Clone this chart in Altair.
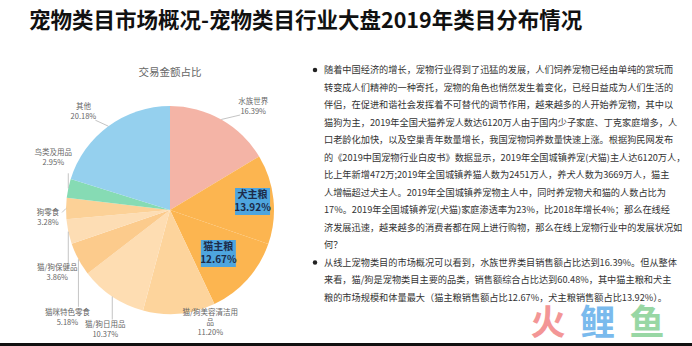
import altair as alt
import pandas as pd

FONT = "Noto Sans CJK SC"

# ---------------- data ----------------
title_text = "宠物类目市场概况-宠物类目行业大盘2019年类目分布情况"
pie_title = "交易金额占比"

categories = ["水族世界", "犬主粮", "猫主粮", "猫/狗美容清洁用品", "猫/狗日用品",
              "猫咪特色零食", "猫/狗保健品", "狗零食", "鸟类及用品", "其他"]
shares = [16.39, 13.92, 12.67, 11.20, 10.37, 5.18, 3.86, 3.28, 2.95, 20.18]
slice_colors = ["#F4B4A6", "#FCB550", "#FCB550", "#FDD49C", "#FEDDB2",
                "#FCCB8C", "#FDDDB4", "#FCD197", "#86DBB4", "#95D0EE"]

body_lines = [
    "随着中国经济的增长，宠物行业得到了迅猛的发展，人们饲养宠物已经由单纯的赏玩而",
    "转变成人们精神的一种寄托，宠物的角色也悄然发生着变化，已经日益成为人们生活的",
    "伴侣，在促进和谐社会发挥着不可替代的调节作用，越来越多的人开始养宠物，其中以",
    "猫狗为主，2019年全国犬猫养宠人数达6120万人由于国内少子家庭、丁克家庭增多，人",
    "口老龄化加快，以及空巢青年数量增长，我国宠物饲养数量快速上涨。根据狗民网发布",
    "的《2019中国宠物行业白皮书》数据显示，2019年全国城镇养宠(犬猫)主人达6120万人，",
    "比上年新增472万;2019年全国城镇养猫人数为2451万人，养犬人数为3669万人，猫主",
    "人增幅超过犬主人。2019年全国城镇养宠物主人中，同时养宠物犬和猫的人数占比为",
    "17%。2019年全国城镇养宠(犬猫)家庭渗透率为23%，比2018年增长4%；那么在线经",
    "济发展迅速，越来越多的消费者都在网上进行购物，那么在线上宠物行业中的发展状况如",
    "何？",
    "从线上宠物类目的市场概况可以看到，水族世界类目销售额占比达到16.39%。但从整体",
    "来看，猫/狗是宠物类目主要的品类，销售额综合占比达到60.48%，其中猫主粮和犬主",
    "粮的市场规模和体量最大（猫主粮销售额占比12.67%，犬主粮销售额占比13.92%）。",
]
bullet_lines = [0, 11]

watermark_chars = ["火", "鲤", "鱼"]
watermark_colors = ["#F28B8B", "#6CB3EC", "#8DD39B"]

# ---------------- layout ----------------
CX, CY, R = 170, 210, 104
W, H = 692, 346
LH = 9.8  # label line height

label_wrap = {"猫/狗美容清洁用品": ["猫/狗美容清洁用", "品"]}
# label placement relative to each slice's mid-angle point on the rim
# tdx/tdy: first text line centre; ldx/ldy: leader end
label_layout = {
    "水族世界":        dict(kind="out", tdx=32, tdy=-17.5, ldx=19, ldy=-4.5, rin=0),
    "犬主粮":          dict(kind="in", tdx=0, tdy=0, ldx=0, ldy=0, rin=83),
    "猫主粮":          dict(kind="in", tdx=0, tdy=0, ldx=0, ldy=0, rin=65),
    "猫/狗美容清洁用品": dict(kind="out", tdx=31, tdy=-0.5, ldx=0, ldy=0, rin=0),
    "猫/狗日用品":      dict(kind="out", tdx=-7, tdy=28.5, ldx=0, ldy=23, rin=0),
    "猫咪特色零食":     dict(kind="out", tdx=-11, tdy=53.5, ldx=0, ldy=47.5, rin=0),
    "猫/狗保健品":      dict(kind="out", tdx=-11, tdy=36.5, ldx=0, ldy=31.5, rin=0),
    "狗零食":          dict(kind="out", tdx=-18, tdy=4.5, ldx=-4, ldy=4, rin=0),
    "鸟类及用品":       dict(kind="out", tdx=-15, tdy=-35.5, ldx=0, ldy=-15, rin=0),
    "其他":            dict(kind="out", tdx=-25, tdy=-19, ldx=-13, ldy=-6, rin=0),
}

rows = []
for i, (c, v) in enumerate(zip(categories, shares)):
    lay = label_layout[c]
    names = label_wrap.get(c, [c])
    rows.append(dict(idx=i, cat=c, value=v,
                     name1=names[0], name2=names[1] if len(names) > 1 else "",
                     nl=len(names), pct=f"{v:.2f}%", **lay))
df = pd.DataFrame(rows)

base = (
    alt.Chart(df)
    .transform_window(cum="sum(value)", sort=[alt.SortField("idx", order="ascending")])
    .transform_joinaggregate(total="sum(value)")
    .transform_calculate(
        mid="(datum.cum - datum.value/2)/datum.total*2*PI",
        ax=f"{CX} + {R}*sin(datum.mid)",
        ay=f"{CY} - {R}*cos(datum.mid)",
    )
)

pie = alt.Chart(df).mark_arc(outerRadius=R).encode(
    theta=alt.Theta("value:Q", stack=True),
    order=alt.Order("idx:Q"),
    color=alt.Color("cat:N", scale=alt.Scale(domain=categories, range=slice_colors), legend=None),
    x=alt.value(CX), y=alt.value(CY),
)

outer = base.transform_filter("datum.kind == 'out'").transform_calculate(
    tx="datum.ax + datum.tdx", ty1="datum.ay + datum.tdy",
    lx="datum.ax + datum.ldx", ly="datum.ay + datum.ldy",
).transform_calculate(
    ty2=f"datum.ty1 + {LH}", typ=f"datum.ty1 + datum.nl*{LH}",
)
leaders = outer.mark_rule(color="#B5B5B5", strokeWidth=0.8).encode(
    x=alt.X("ax:Q", scale=None), y=alt.Y("ay:Q", scale=None),
    x2="lx:Q", y2="ly:Q",
)
lbl_style = dict(font=FONT, fontSize=7.5, color="#666666", align="center", baseline="middle")
lbl_name1 = outer.mark_text(**lbl_style).encode(
    x=alt.X("tx:Q", scale=None), y=alt.Y("ty1:Q", scale=None), text="name1:N")
lbl_name2 = outer.transform_filter("datum.nl > 1").mark_text(**lbl_style).encode(
    x=alt.X("tx:Q", scale=None), y=alt.Y("ty2:Q", scale=None), text="name2:N")
lbl_pct = outer.mark_text(**lbl_style).encode(
    x=alt.X("tx:Q", scale=None), y=alt.Y("typ:Q", scale=None), text="pct:N")

inner = base.transform_filter("datum.kind == 'in'").transform_calculate(
    bx=f"{CX} + datum.rin*sin(datum.mid)", by=f"{CY} - datum.rin*cos(datum.mid)",
).transform_calculate(
    bx0="datum.bx - 17.5", bx1="datum.bx + 17.5", by0="datum.by - 13.5", by1="datum.by + 13.5",
    by_a="datum.by - 6.5", by_b="datum.by + 6.5",
)
in_boxes = inner.mark_rect(color="#4EA5DE").encode(
    x=alt.X("bx0:Q", scale=None), x2="bx1:Q",
    y=alt.Y("by0:Q", scale=None), y2="by1:Q",
)
in_style = dict(font=FONT, fontSize=10, fontWeight="bold", color="#1C2B4A",
                align="center", baseline="middle")
in_name = inner.mark_text(**in_style).encode(
    x=alt.X("bx:Q", scale=None), y=alt.Y("by_a:Q", scale=None), text="name1:N")
in_pct = inner.mark_text(**in_style).encode(
    x=alt.X("bx:Q", scale=None), y=alt.Y("by_b:Q", scale=None), text="pct:N")

title = alt.Chart(pd.DataFrame({"t": [title_text]})).mark_text(
    font=FONT, fontSize=21.5, fontWeight="bold", color="#111111", align="left", baseline="middle"
).encode(x=alt.value(29), y=alt.value(22), text="t:N")

ptitle = alt.Chart(pd.DataFrame({"t": [pie_title]})).mark_text(
    font=FONT, fontSize=10.5, color="#666666", align="center", baseline="middle"
).encode(x=alt.value(CX), y=alt.value(73), text="t:N")

body_df = pd.DataFrame({"line": list(range(len(body_lines))), "t": body_lines,
                        "bullet": [i in bullet_lines for i in range(len(body_lines))]})
body_base = alt.Chart(body_df).transform_calculate(py="70 + datum.line*17.5")
body = body_base.mark_text(font=FONT, fontSize=9.2, color="#333333", align="left",
                           baseline="middle").encode(
    x=alt.value(324), y=alt.Y("py:Q", scale=None), text="t:N")
bullets = body_base.transform_filter("datum.bullet").mark_circle(
    size=20, color="#222222", opacity=1).encode(x=alt.value(315), y=alt.Y("py:Q", scale=None))

wm_df = pd.DataFrame({"i": [0, 1, 2], "ch": watermark_chars, "col": watermark_colors})
watermark = alt.Chart(wm_df).transform_calculate(px="548 + datum.i*49.5").mark_text(
    font=FONT, fontSize=35, fontWeight="bold", align="center", baseline="middle", opacity=0.9
).encode(
    x=alt.X("px:Q", scale=None), y=alt.value(323.5), text="ch:N",
    color=alt.Color("col:N", scale=None),
)

bottom_line = alt.Chart(pd.DataFrame({"a": [0]})).mark_rule(color="#111111", strokeWidth=3).encode(
    x=alt.value(0), x2=alt.value(W), y=alt.value(344.5))

chart = alt.layer(
    pie, leaders, lbl_name1, lbl_name2, lbl_pct, in_boxes, in_name, in_pct,
    title, ptitle, body, bullets, watermark, bottom_line
).properties(
    width=W, height=H, padding=0, autosize=alt.AutoSizeParams(type="none"),
    background="white",
).configure_view(stroke=None)

chart.save("out.html", embed_options={"renderer": "svg", "actions": False})
